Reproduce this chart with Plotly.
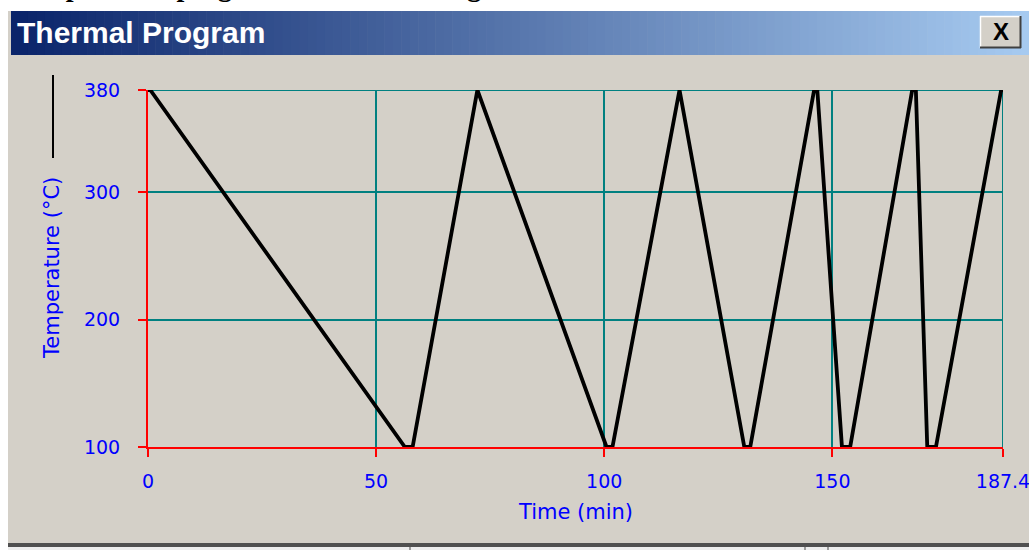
import plotly.graph_objects as go

# ---- data ----
time_min = [0, 0.5, 56.3, 58.0, 72.2, 100.5, 101.8, 116.5, 130.7, 132.0,
            146.0, 146.7, 152.1, 153.9, 167.5, 168.3, 170.8, 172.7, 187.0, 187.4]
temp_c = [380, 380, 100, 100, 380, 100, 100, 380, 100, 100,
          380, 380, 100, 100, 380, 380, 100, 100, 380, 380]
x_ticks = [0, 50, 100, 150, 187.4]
x_tick_labels = ["0", "50", "100", "150", "187.4"]
y_ticks = [100, 200, 300, 380]
y_tick_labels = ["100", "200", "300", "380"]

# figure is a bit wider than the 1029px window so the last tick label is
# kept by plotly and then clipped by the window edge, as in the reference
W, H = 1044, 550
L, R, T, B = 148, 41, 90, 103
PW = W - L - R
PH = H - T - B


def px(x):
    return (x - L) / PW


def py(y):
    return (H - B - y) / PH


BLUE = "#0000FF"
GRID = "#008080"
BODY = "#D4D0C8"

fig = go.Figure()
fig.add_trace(go.Scatter(x=time_min, y=temp_c, mode="lines",
                         line=dict(color="black", width=3.8),
                         cliponaxis=False, hoverinfo="skip", showlegend=False))

shapes = []


def rect(x0, y0, x1, y1, color, layer="below"):
    shapes.append(dict(type="rect", xref="paper", yref="paper",
                       x0=px(x0), x1=px(x1), y0=py(y1), y1=py(y0),
                       fillcolor=color, line=dict(width=0), layer=layer))


def seg(x0, y0, x1, y1, color, width, layer="below"):
    shapes.append(dict(type="line", xref="paper", yref="paper",
                       x0=px(x0), x1=px(x1), y0=py(y0), y1=py(y1),
                       line=dict(color=color, width=width), layer=layer))


# window chrome
rect(0, 0, W, 11, "white")
rect(0, 0, 8, H, "white")
rect(8, 543, W, 547, "#505050")
rect(8, 547, W, H, "#EEEEEE")
for xx in (410, 805, 828):
    seg(xx, 547, xx, H, "#808080", 1.5)

# gradient title bar
c0 = (10, 36, 106)
c1 = (166, 202, 240)
n = 120
bx0, bx1 = 11, 1029
for i in range(n):
    f = i / (n - 1)
    col = "rgb(%d,%d,%d)" % tuple(round(a + (b - a) * f) for a, b in zip(c0, c1))
    xa = bx0 + (bx1 - bx0) * i / n
    xb = bx0 + (bx1 - bx0) * (i + 1) / n + 0.6
    rect(xa, 11, xb, 55, col)

# close button
rect(980, 16, 1021, 48, BODY)
seg(980, 16.5, 1021, 16.5, "white", 1.5)
seg(980.5, 16, 980.5, 48, "white", 1.5)
seg(980, 47.5, 1021, 47.5, "#404040", 2)
seg(1020.5, 16, 1020.5, 48, "#404040", 2)

# gridlines at the far ends of the axes (plotly drops edge gridlines)
shapes.append(dict(type="line", xref="x", yref="y domain", x0=x_ticks[-1], x1=x_ticks[-1],
                   y0=0, y1=1, line=dict(color=GRID, width=2), layer="below"))
shapes.append(dict(type="line", xref="x domain", yref="y", x0=0, x1=1,
                   y0=y_ticks[-1], y1=y_ticks[-1], line=dict(color=GRID, width=2), layer="below"))

# legend line sample above y title
seg(53, 75, 53, 158, "black", 2, layer="above")

annotations = [
    dict(text="<b>Temperature program used for heating</b>", xref="paper", yref="paper",
         x=px(12), y=py(4), xanchor="left", yanchor="bottom", showarrow=False,
         font=dict(family="Liberation Serif", size=28, color="black")),
    dict(text="<b>Thermal Program</b>", xref="paper", yref="paper",
         x=px(15), y=py(33), xanchor="left", yanchor="middle", showarrow=False,
         font=dict(family="Liberation Sans", size=30, color="white")),
    dict(text="<b>X</b>", xref="paper", yref="paper",
         x=px(1000.5), y=py(32), xanchor="center", yanchor="middle", showarrow=False,
         font=dict(family="Liberation Sans", size=24, color="black")),
    dict(text="Time (min)", xref="paper", yref="paper",
         x=px(575), y=py(512), xanchor="center", yanchor="middle", showarrow=False,
         font=dict(family="DejaVu Sans", size=21, color=BLUE)),
    dict(text="Temperature (°C)", xref="paper", yref="paper", textangle=-90,
         x=px(52), y=py(268), xanchor="center", yanchor="middle", showarrow=False,
         font=dict(family="DejaVu Sans", size=21, color=BLUE)),
]

axis_common = dict(showgrid=True, gridcolor=GRID, gridwidth=2,
                   showline=True, linecolor="red", linewidth=2,
                   ticks="outside", ticklen=8, tickcolor="red", tickwidth=2,
                   zeroline=False, layer="below traces", fixedrange=True,
                   automargin=False,
                   tickfont=dict(family="DejaVu Sans", size=19, color=BLUE))

fig.update_layout(
    width=W, height=H,
    margin=dict(l=L, r=R, t=T, b=B, pad=0, autoexpand=False),
    paper_bgcolor=BODY, plot_bgcolor=BODY,
    xaxis=dict(range=[0, 187.4], tickvals=x_ticks, ticktext=x_tick_labels,
               ticklabelstandoff=8, **axis_common),
    yaxis=dict(range=[100, 380], tickvals=y_ticks, ticktext=y_tick_labels,
               ticklabelstandoff=14, **axis_common),
    shapes=shapes, annotations=annotations, showlegend=False,
)

fig.write_html("out.html", config=dict(displayModeBar=False, responsive=False),
               post_script="document.body.style.margin='0';document.body.style.overflow='hidden';")
